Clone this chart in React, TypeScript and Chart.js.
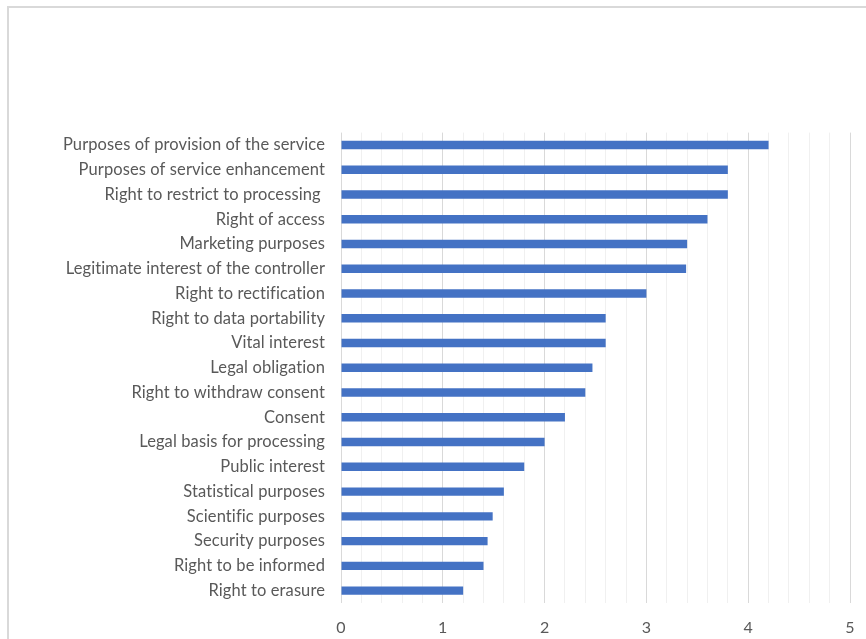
import React, { useEffect, useRef } from "react";
import { Chart, registerables } from "chart.js";

Chart.register(...registerables);

const categories: string[] = [
  "Purposes of provision of the service",
  "Purposes of service enhancement",
  "Right to restrict to processing ",
  "Right of access",
  "Marketing purposes",
  "Legitimate interest of the controller",
  "Right to rectification",
  "Right to data portability",
  "Vital interest",
  "Legal obligation",
  "Right to withdraw consent",
  "Consent",
  "Legal basis for processing",
  "Public interest",
  "Statistical purposes",
  "Scientific purposes",
  "Security purposes",
  "Right to be informed",
  "Right to erasure",
];

const scores: number[] = [
  4.2, 3.8, 3.8, 3.6, 3.4, 3.39, 3.0, 2.6, 2.6, 2.47, 2.4, 2.2, 2.0, 1.8, 1.6, 1.49, 1.44, 1.4, 1.2,
];

const xMin = 0;
const xMax = 5;
const xStep = 0.2;

const FONT = "Lato, 'Open Sans', sans-serif";
const TEXT = "#595959";

function isInteger(v: number) {
  return Math.abs(v - Math.round(v)) < 1e-6;
}

const noLigatures = {
  id: "noLigatures",
  beforeLayout(chart: any) {
    chart.ctx.letterSpacing = "0.1px";
  },
  beforeDraw(chart: any) {
    chart.ctx.letterSpacing = "0.1px";
  },
};

export default function App() {
  const ref = useRef<HTMLCanvasElement | null>(null);

  useEffect(() => {
    document.body.style.margin = "0";
    document.body.style.overflow = "hidden";
    const canvas = ref.current;
    if (!canvas) return;
    const chart = new Chart(canvas, {
      type: "bar",
      data: {
        labels: categories,
        datasets: [
          {
            data: scores,
            backgroundColor: "#4472C4",
            borderWidth: 0,
            categoryPercentage: 1,
            barPercentage: 0.34,
          },
        ],
      },
      plugins: [noLigatures],
      options: {
        indexAxis: "y",
        responsive: false,
        animation: false,
        events: [],
        layout: { padding: { top: 132.6, right: 16, bottom: 0, left: 0 } },
        plugins: {
          legend: { display: false },
          tooltip: { enabled: false },
          title: { display: false },
        },
        scales: {
          x: {
            type: "linear",
            min: xMin,
            max: xMax,
            border: { display: false },
            grid: {
              drawTicks: false,
              lineWidth: 1,
              color: (ctx: any) =>
                ctx.tick && isInteger(ctx.tick.value) ? "#d9d9d9" : "#f0f0f0",
            },
            afterFit: (scale: any) => {
              scale.height = 36;
              scale.paddingLeft = 0;
              scale.paddingRight = 0;
              scale.paddingTop = 0;
              scale.paddingBottom = 0;
            },
            ticks: {
              stepSize: xStep,
              autoSkip: false,
              maxRotation: 0,
              padding: 15,
              color: TEXT,
              font: { family: FONT, size: 16 },
              callback: (v: any) => (isInteger(Number(v)) ? String(Math.round(Number(v))) : ""),
            },
          },
          y: {
            type: "category",
            border: { display: false },
            grid: { display: false, drawTicks: false },
            afterFit: (scale: any) => {
              scale.width = 341;
              scale.paddingLeft = 0;
              scale.paddingRight = 0;
              scale.paddingTop = 0;
              scale.paddingBottom = 0;
            },
            ticks: {
              padding: 16,
              autoSkip: false,
              color: TEXT,
              font: { family: FONT, size: 16.5 },
            },
          },
        },
      },
    });
    return () => chart.destroy();
  }, []);

  return (
    <div style={{ position: "fixed", left: 0, top: 0, width: 866, height: 639, background: "#fff", overflow: "hidden" }}>
      <div
        style={{
          position: "absolute",
          left: 7,
          top: 6,
          width: 900,
          height: 700,
          border: "2px solid #d9d9d9",
          boxSizing: "border-box",
        }}
      />
      <canvas ref={ref} width={866} height={639} style={{ position: "absolute", left: 0, top: 0 }} />
    </div>
  );
}
